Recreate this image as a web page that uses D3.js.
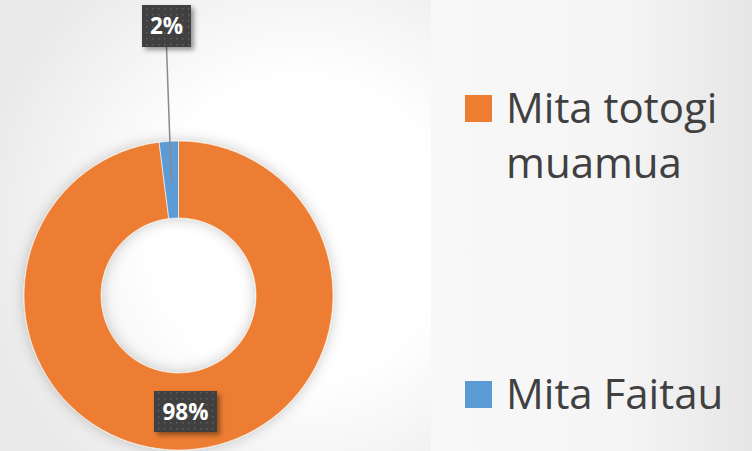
<!DOCTYPE html>
<html>
<head>
<meta charset="utf-8">
<script src="https://cdn.jsdelivr.net/npm/d3@7"></script>
<style>
  body { margin: 0; overflow: hidden; }
  svg { display: block; }
</style>
</head>
<body>
<script>
'use strict';

// chart data
const categories = ['Mita totogi muamua', 'Mita Faitau'];
const values = [98, 2];
const labels = ['98%', '2%'];
const colors = ['#ED7D31', '#5B9BD5'];

const msm = {
  width: 752,
  height: 451,
  cx: 178.5,
  cy: 295.5,
  outer: 154.5,
  inner: 77.5,
  panelX: 431
};

const svg = d3.select('body').append('svg')
  .attr('width', msm.width)
  .attr('height', msm.height);

const defs = svg.append('defs');

// left background: white centre fading to light grey
const bg = defs.append('radialGradient').attr('id', 'bgGrad')
  .attr('gradientUnits', 'userSpaceOnUse')
  .attr('cx', 300).attr('cy', 230).attr('r', 330);
bg.append('stop').attr('offset', '0.45').attr('stop-color', '#ffffff');
bg.append('stop').attr('offset', '1').attr('stop-color', '#e9e9e9');

// right panel gradient
const pg = defs.append('linearGradient').attr('id', 'panelGrad')
  .attr('x1', 0).attr('y1', 0).attr('x2', 1).attr('y2', 0);
pg.append('stop').attr('offset', '0').attr('stop-color', '#f8f8f8');
pg.append('stop').attr('offset', '0.6').attr('stop-color', '#f5f5f5');
pg.append('stop').attr('offset', '1').attr('stop-color', '#e6e6e6');

// soft glow shadow around the donut
const glow = defs.append('filter').attr('id', 'glow')
  .attr('x', '-30%').attr('y', '-30%').attr('width', '160%').attr('height', '160%');
glow.append('feGaussianBlur').attr('in', 'SourceAlpha').attr('stdDeviation', 7).attr('result', 'blur');
glow.append('feFlood').attr('flood-color', '#000').attr('flood-opacity', 0.22);
glow.append('feComposite').attr('in2', 'blur').attr('operator', 'in').attr('result', 'shadow');
const gm = glow.append('feMerge');
gm.append('feMergeNode').attr('in', 'shadow');
gm.append('feMergeNode').attr('in', 'SourceGraphic');

// drop shadow for label boxes
const ds = defs.append('filter').attr('id', 'boxShadow')
  .attr('x', '-30%').attr('y', '-30%').attr('width', '170%').attr('height', '170%');
ds.append('feGaussianBlur').attr('in', 'SourceAlpha').attr('stdDeviation', 2.5).attr('result', 'blur');
ds.append('feOffset').attr('dx', 3).attr('dy', 3).attr('result', 'off');
ds.append('feFlood').attr('flood-color', '#000').attr('flood-opacity', 0.4);
ds.append('feComposite').attr('in2', 'off').attr('operator', 'in').attr('result', 'shadow');
const dm = ds.append('feMerge');
dm.append('feMergeNode').attr('in', 'shadow');
dm.append('feMergeNode').attr('in', 'SourceGraphic');

// dotted pattern for label boxes
const pat = defs.append('pattern').attr('id', 'dots')
  .attr('patternUnits', 'userSpaceOnUse')
  .attr('width', 6).attr('height', 6);
pat.append('rect').attr('width', 6).attr('height', 6).attr('fill', '#404040');
pat.append('rect').attr('x', 2).attr('y', 2).attr('width', 1.5).attr('height', 1.5).attr('fill', '#5e5e5e');

// backgrounds
svg.append('rect').attr('width', msm.panelX).attr('height', msm.height).attr('fill', 'url(#bgGrad)');
svg.append('rect').attr('x', msm.panelX).attr('width', msm.width - msm.panelX)
  .attr('height', msm.height).attr('fill', 'url(#panelGrad)');

// donut
const pie = d3.pie().sort(null).value(d => d);
const arcs = pie(values);
const arc = d3.arc().innerRadius(msm.inner).outerRadius(msm.outer);

const chart = svg.append('g').attr('transform', `translate(${msm.cx},${msm.cy})`);
chart.append('g').attr('filter', 'url(#glow)')
  .selectAll('path')
  .data(arcs)
  .enter()
  .append('path')
    .attr('d', arc)
    .attr('fill', (d, i) => colors[i])
    .attr('stroke', '#ffffff')
    .attr('stroke-width', 0.6);

// leader line for small slice
const blue = arcs[1];
const midA = (blue.startAngle + blue.endAngle) / 2;
const lineStartR = msm.outer - 40;
const sx = Math.sin(midA) * lineStartR;
const sy = -Math.cos(midA) * lineStartR;
chart.append('line')
  .attr('x1', sx).attr('y1', sy)
  .attr('x2', 166.5 - msm.cx).attr('y2', 47 - msm.cy)
  .attr('stroke', '#8a8a8a')
  .attr('stroke-width', 1.5);

// data labels
const labelBoxes = [
  { cx: 185.5, cy: 411.5, w: 63, h: 41 },
  { cx: 166.5, cy: 26, w: 49, h: 42 }
];
labelBoxes.forEach((b, i) => {
  const g = svg.append('g');
  g.append('rect')
    .attr('x', b.cx - b.w / 2).attr('y', b.cy - b.h / 2)
    .attr('width', b.w).attr('height', b.h)
    .attr('fill', 'url(#dots)')
    .attr('filter', 'url(#boxShadow)');
  g.append('text')
    .attr('x', b.cx).attr('y', b.cy + 8)
    .attr('text-anchor', 'middle')
    .style('font-family', '"Open Sans", sans-serif')
    .style('font-weight', 'bold')
    .style('font-size', '22.5px')
    .attr('fill', '#ffffff')
    .text(labels[i]);
});

// legend
const legendRows = [
  { y: 95, lines: ['Mita totogi', 'muamua'] },
  { y: 381, lines: ['Mita Faitau'] }
];
legendRows.forEach((r, i) => {
  svg.append('rect')
    .attr('x', 465).attr('y', r.y)
    .attr('width', 27).attr('height', 27)
    .attr('fill', colors[i]);
  const t = svg.append('text')
    .attr('x', 506).attr('y', r.y + 28)
    .style('font-family', '"Open Sans", sans-serif')
    .style('font-size', '42px')
    .attr('fill', '#404040');
  r.lines.forEach((ln, j) => {
    t.append('tspan').attr('x', 506).attr('dy', j === 0 ? 0 : 55).text(ln);
  });
});
</script>
</body>
</html>
